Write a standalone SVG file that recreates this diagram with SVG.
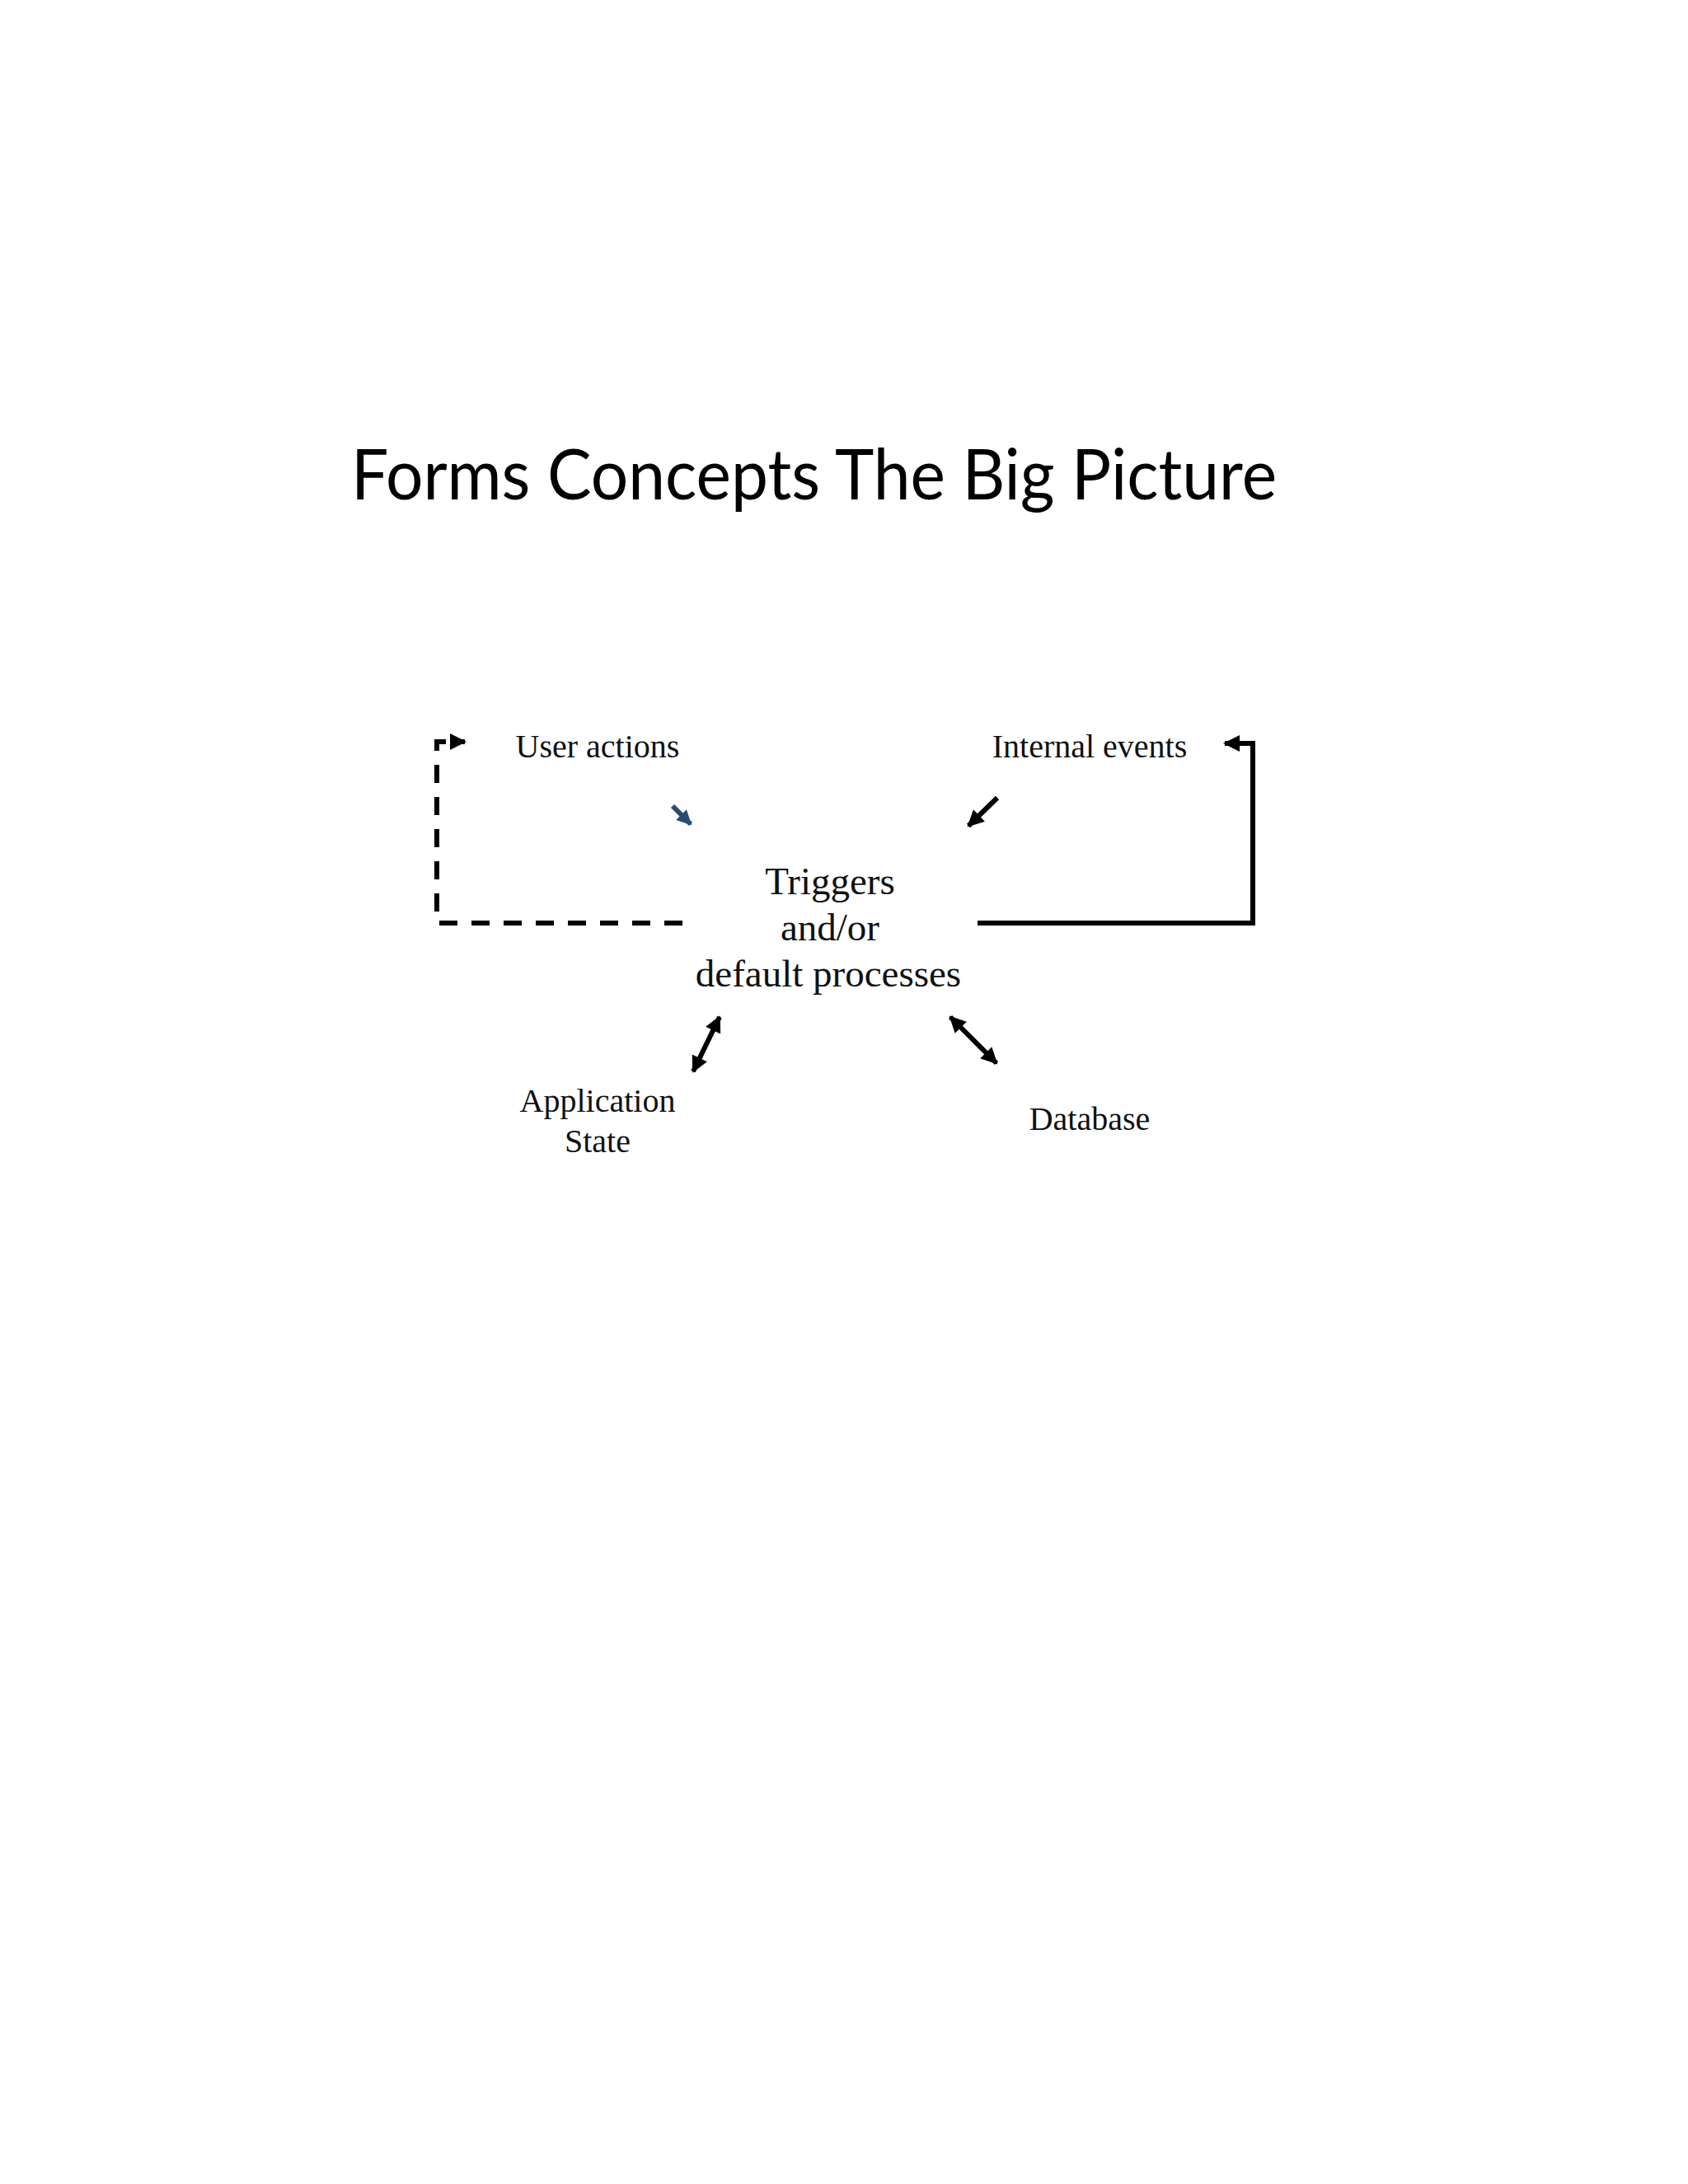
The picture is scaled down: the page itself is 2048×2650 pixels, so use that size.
<svg xmlns="http://www.w3.org/2000/svg" width="2048" height="2650" viewBox="0 0 2048 2650">
<style>
.lbl{font-family:"Liberation Serif","Times New Roman",serif;font-size:40px;fill:#111;text-anchor:middle}
.big{font-size:47px}
.title{font-family:Lato,"Open Sans",sans-serif;font-size:86px;fill:#000}
.ln{fill:none;stroke:#000;stroke-width:6}
</style>
<defs>
<marker id="ah" viewBox="0 0 10 10" refX="9" refY="5" markerWidth="22" markerHeight="20" markerUnits="userSpaceOnUse" orient="auto-start-reverse"><path d="M0,0 L10,5 L0,10 z" fill="#000"/></marker>
<marker id="ahb" viewBox="0 0 10 10" refX="9" refY="5" markerWidth="20" markerHeight="18" markerUnits="userSpaceOnUse" orient="auto"><path d="M0,0 L10,5 L0,10 z" fill="#2b4a72"/></marker>
</defs>
<rect width="2048" height="2650" fill="#fff"/>
<text class="title" x="426" y="606" textLength="1123" lengthAdjust="spacingAndGlyphs">Forms Concepts The Big Picture</text>
<g id="user-actions"><text class="lbl" x="725" y="919">User actions</text></g>
<g id="internal-events"><text class="lbl" x="1322" y="919">Internal events</text></g>
<g id="triggers"><text class="lbl big" x="1007" y="1085">Triggers</text><text class="lbl big" x="1007" y="1141">and/or</text><text class="lbl big" x="1005" y="1197">default processes</text></g>
<g id="application-state"><text class="lbl" x="725" y="1349">Application</text><text class="lbl" x="725" y="1398">State</text></g>
<g id="database"><text class="lbl" x="1322" y="1371">Database</text></g>
<g id="connectors">
<path class="ln" d="M828 1120 H530 V900 H564" stroke-dasharray="22 17" marker-end="url(#ah)"/>
<path class="ln" d="M1186 1120 H1520 V902 H1486" marker-end="url(#ah)"/>
<line x1="816" y1="978" x2="838" y2="1000" stroke="#2b4a72" stroke-width="6" marker-end="url(#ahb)"/>
<line class="ln" x1="1210" y1="968" x2="1175" y2="1002" marker-end="url(#ah)"/>
<line class="ln" x1="873" y1="1234" x2="841" y2="1300" marker-start="url(#ah)" marker-end="url(#ah)"/>
<line class="ln" x1="1153" y1="1234" x2="1209" y2="1290" marker-start="url(#ah)" marker-end="url(#ah)"/>
</g>
</svg>
